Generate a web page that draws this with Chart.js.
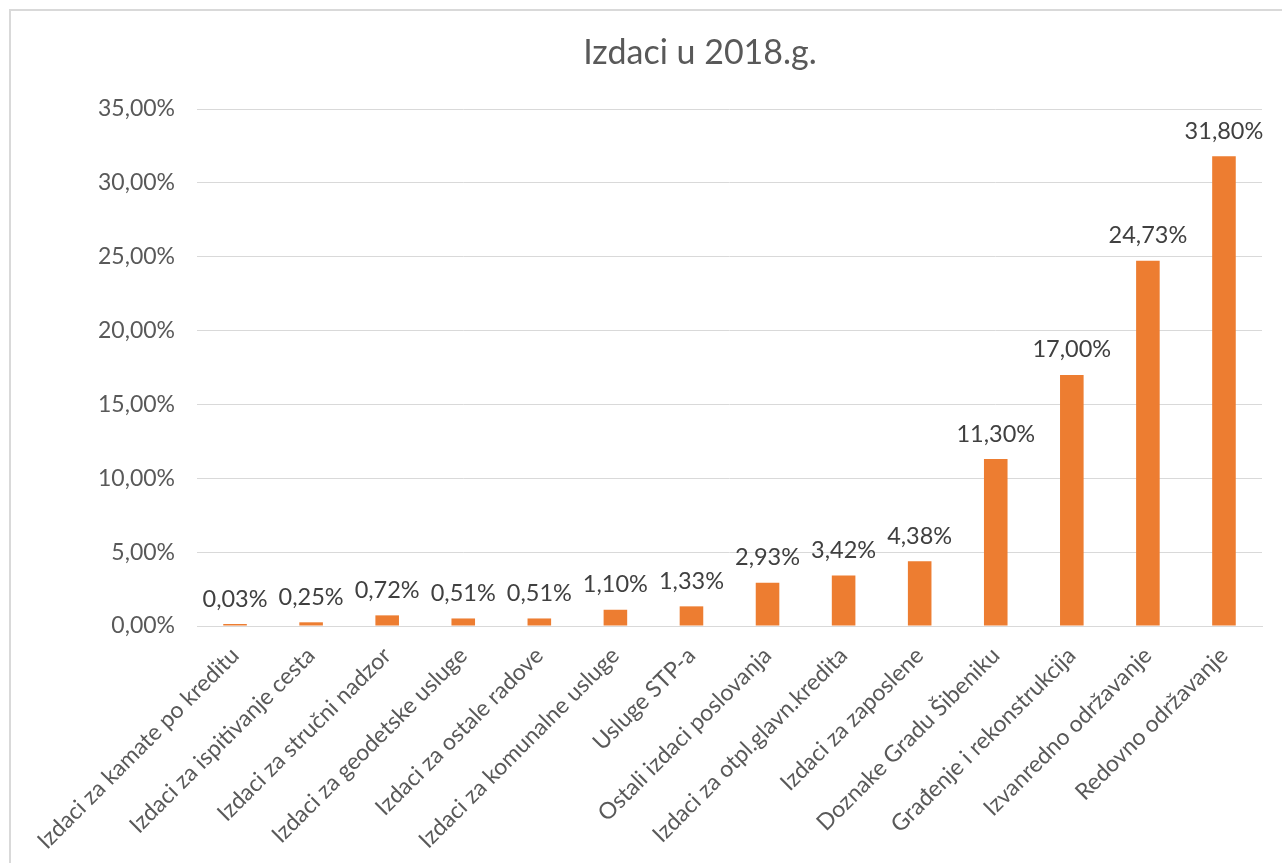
<!DOCTYPE html>
<html>
<head>
  <title>Izdaci u 2018.g.</title>
  <script src="https://cdn.jsdelivr.net/npm/chart.js"></script>
  <style>
    body { margin: 0; background: #fff; }
    .box {
      position: absolute;
      left: 9px;
      top: 9px;
      width: 1271px;
      height: 858px;
      border: 2px solid #d9d9d9;
    }
  </style>
</head>
<body>
  <div class="box">
    <canvas id="chart1" width="1271" height="858"></canvas>
  </div>

  <script>
    const categories = [
      'Izdaci za kamate po kreditu',
      'Izdaci za ispitivanje cesta',
      'Izdaci za stručni nadzor',
      'Izdaci za geodetske usluge',
      'Izdaci za ostale radove',
      'Izdaci za komunalne usluge',
      'Usluge STP-a',
      'Ostali izdaci poslovanja',
      'Izdaci za otpl.glavn.kredita',
      'Izdaci za zaposlene',
      'Doznake Gradu Šibeniku',
      'Građenje i rekonstrukcija',
      'Izvanredno održavanje',
      'Redovno održavanje'
    ];
    const shares = [0.03, 0.25, 0.72, 0.51, 0.51, 1.10, 1.33, 2.93, 3.42, 4.38, 11.30, 17.00, 24.73, 31.80];
    const chartTitle = 'Izdaci u 2018.g.';

    const fontName = 'Lato';
    const pct = v => v.toFixed(2).replace('.', ',') + '%';

    // title a bit right of the canvas centre, like Excel puts it
    const titleText = {
      id: 'titleText',
      afterDraw(chart) {
        const ctx = chart.ctx;
        ctx.save();
        ctx.font = '34px ' + fontName;
        ctx.fillStyle = '#595959';
        ctx.textAlign = 'center';
        ctx.textBaseline = 'middle';
        ctx.fillText(chartTitle, 689, 42);
        ctx.restore();
      }
    };

    // labels above each bar
    const barLabels = {
      id: 'barLabels',
      afterDatasetsDraw(chart) {
        const ctx = chart.ctx;
        const meta = chart.getDatasetMeta(0);
        ctx.save();
        ctx.font = '23.5px ' + fontName;
        ctx.fillStyle = '#404040';
        ctx.textAlign = 'center';
        ctx.textBaseline = 'middle';
        meta.data.forEach((bar, i) => {
          ctx.fillText(pct(shares[i]), bar.x, bar.y - 25);
        });
        ctx.restore();
      }
    };

    new Chart(document.getElementById('chart1'), {
      type: 'bar',
      data: {
        labels: categories,
        datasets: [{
          data: shares,
          backgroundColor: '#ed7d31',
          barPercentage: 0.62,
          categoryPercentage: 0.5,
          minBarLength: 2
        }]
      },
      options: {
        responsive: false,
        animation: false,
        layout: { padding: { left: 0, right: 20, top: 98, bottom: 0 } },
        plugins: {
          legend: { display: false },
          tooltip: { enabled: false }
        },
        scales: {
          x: {
            grid: { display: false },
            border: { color: '#d9d9d9' },
            ticks: {
              color: '#595959',
              font: { family: fontName, size: 23 },
              minRotation: 45,
              maxRotation: 45,
              autoSkip: false,
              padding: 8
            },
            afterFit(scale) { scale.height = 243; }
          },
          y: {
            min: 0,
            max: 35,
            grid: { color: '#d9d9d9', drawTicks: false },
            border: { display: false },
            ticks: {
              stepSize: 5,
              color: '#595959',
              font: { family: fontName, size: 23 },
              padding: 22,
              callback: v => pct(v)
            },
            afterFit(scale) { scale.width = 186; }
          }
        }
      },
      plugins: [barLabels, titleText]
    });
  </script>
</body>
</html>
